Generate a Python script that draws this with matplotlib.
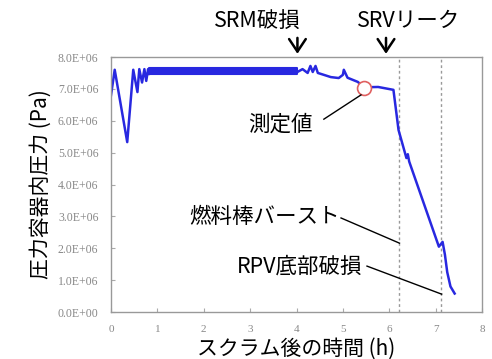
import numpy as np
import matplotlib
matplotlib.use("Agg")
import matplotlib.pyplot as plt

plt.rcParams['font.family'] = ['Noto Sans CJK JP', 'DejaVu Sans']

# pressure history (time in h, pressure in 1e6 Pa)
t_start = [0.00, 0.08, 0.35, 0.48, 0.57, 0.61, 0.67, 0.72, 0.76, 0.80, 0.83]
p_start = [6.80, 7.60, 5.33, 7.60, 6.90, 7.62, 7.20, 7.62, 7.25, 7.62, 7.47]

# SRV cycling range
band_t = [0.83, 4.02]
band_lo = [7.46, 7.46]
band_hi = [7.66, 7.66]

t_late = [4.02, 4.13, 4.24, 4.30, 4.35, 4.41, 4.46, 4.59, 4.74, 4.91, 5.00, 5.02,
          5.10, 5.32, 5.46, 5.76, 6.09, 6.20, 6.37, 6.40, 6.43, 7.07, 7.15, 7.20,
          7.25, 7.32, 7.41]
p_late = [7.53, 7.62, 7.50, 7.72, 7.53, 7.72, 7.50, 7.44, 7.37, 7.34, 7.44, 7.60,
          7.35, 7.22, 7.05, 7.06, 6.97, 5.71, 4.83, 4.95, 4.72, 2.05, 2.20, 1.80,
          1.25, 0.80, 0.58]

meas_t, meas_p = 5.46, 7.03
fuel_burst_t = 6.22
rpv_fail_t = 7.11

xticks = [0, 1, 2, 3, 4, 5, 6, 7, 8]
yticks = [0, 1, 2, 3, 4, 5, 6, 7, 8]
ylabels = ['0.0E+00', '1.0E+06', '2.0E+06', '3.0E+06', '4.0E+06',
           '5.0E+06', '6.0E+06', '7.0E+06', '8.0E+06']

blue = '#2828e0'

fig = plt.figure(figsize=(4.92, 3.59), dpi=100)
ax = fig.add_axes([0.2256, 0.1309, 0.7541, 0.7103])

ax.axvline(fuel_burst_t, color='#999999', ls=(0, (2, 2)), lw=1)
ax.axvline(rpv_fail_t, color='#999999', ls=(0, (2, 2)), lw=1)

ax.plot(t_start, p_start, color=blue, lw=1.8)
ax.fill_between(band_t, band_lo, band_hi, color=blue, lw=1.5, edgecolor=blue)
ax.plot(t_late, p_late, color=blue, lw=1.8)
ax.plot(meas_t, meas_p, 'o', ms=10, mfc='white', mec='#e06060', mew=1.2)

ax.set_xlim(0, 8)
ax.set_ylim(0, 8)
ax.set_xticks(xticks)
ax.set_xticklabels([str(v) for v in xticks], family='Liberation Serif',
                   fontsize=8, color='#888888')
ax.set_yticks(yticks)
ax.set_yticklabels(ylabels, family='Liberation Serif', fontsize=8.5, color='#888888')
ax.tick_params(direction='in', length=3, color='#aaaaaa', pad=9)
for s in ax.spines.values():
    s.set_color('#999999')
    s.set_linewidth(1)

ax.set_xlabel('スクラム後の時間 (h)', fontsize=15, labelpad=3)
ax.set_ylabel('圧力容器内圧力 (Pa)', fontsize=15, labelpad=4)

# event labels above the plot
ax.text(3.15, 9.13, 'SRM破損', fontsize=15.5, ha='center', va='center')
ax.text(6.42, 9.13, 'SRVリーク', fontsize=15.5, ha='center', va='center')
for tx in [4.02, 5.93]:
    ax.annotate('', xy=(tx, 8.1), xytext=(tx, 8.6), annotation_clip=False,
                arrowprops=dict(arrowstyle='->,head_length=0.45,head_width=0.3',
                                lw=1.8, color='black', mutation_scale=20,
                                shrinkA=0, shrinkB=0))

ax.text(3.65, 5.87, '測定値', fontsize=15.5, ha='center', va='center')
ax.plot([4.59, 5.39], [6.05, 6.81], color='black', lw=1)

ax.text(4.93, 2.98, '燃料棒バースト', fontsize=15.5, ha='right', va='center')
ax.plot([4.96, 6.22], [2.95, 2.16], color='black', lw=1)

ax.text(5.43, 1.44, 'RPV底部破損', fontsize=15.5, ha='right', va='center')
ax.plot([5.52, 7.13], [1.44, 0.56], color='black', lw=1)

fig.savefig('out.png', dpi=100)
